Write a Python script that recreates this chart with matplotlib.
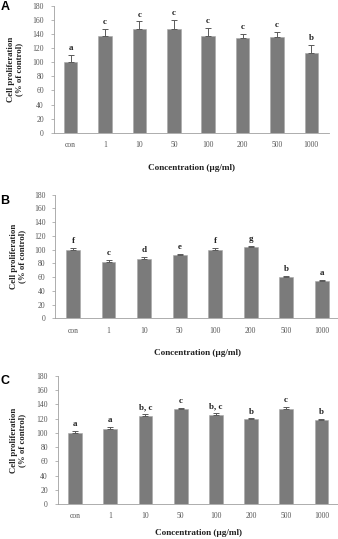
import matplotlib
matplotlib.use("Agg")
import matplotlib.pyplot as plt

categories = ["con", "1", "10", "50", "100", "200", "500", "1000"]

vals_a = [100, 138, 148, 148, 137, 135, 136, 113]
err_a = [10, 10, 10, 12, 12, 5, 7, 12]
let_a = ["a", "c", "c", "c", "c", "c", "c", "b"]

vals_b = [100, 82, 87, 92, 99, 104, 60, 55]
err_b = [3, 2.5, 2.5, 2, 3, 1.5, 2, 1]
let_b = ["f", "c", "d", "e", "f", "g", "b", "a"]

vals_c = [100, 106, 124, 133, 125, 119, 134, 118]
err_c = [2.5, 2.5, 2.5, 2, 2.5, 1.5, 2.5, 1.5]
let_c = ["a", "a", "b, c", "c", "b, c", "b", "c", "b"]

yticks = list(range(0, 181, 20))

W, H = 338, 539
plt.rcParams['font.family'] = ['Liberation Serif', 'DejaVu Serif']
fig = plt.figure(figsize=(W / 100, H / 100), dpi=100)
fig.patch.set_facecolor("white")

# panel boxes in pixels: left, right, top, bottom, ylabel x, xlabel y, panel letter y
panels = [
    ("A", vals_a, err_a, let_a, (53.5, 328.5, 6, 132.7), 15, 168, 1),
    ("B", vals_b, err_b, let_b, (55.2, 339.5, 194.7, 318.3), 18, 353, 195),
    ("C", vals_c, err_c, let_c, (57.5, 339.0, 376, 504), 18, 533, 375),
]

for name, vals, errs, lets, box, ylx, xly, laby in panels:
    l, r, t, b = box
    ax = fig.add_axes([l / W, 1 - b / H, (r - l) / W, (b - t) / H])
    x = range(len(categories))
    ax.bar(x, vals, width=0.39, color="#7b7b7b", edgecolor="#a8a8a8", linewidth=0.4, zorder=2)
    ax.errorbar(x, vals, yerr=[[0] * len(errs), errs], fmt="none", ecolor="#5a5a5a",
                elinewidth=0.7, capsize=2, capthick=0.7, zorder=3)
    for i, (v, e, s) in enumerate(zip(vals, errs, lets)):
        ax.annotate(s, (i, v + e), xytext=(0, 2), textcoords="offset points",
                    ha="center", va="bottom", fontsize=6.5, fontweight="bold", color="#222222")
    ax.set_xlim(-0.5, 7.5)
    ax.set_ylim(0, 180)
    ax.set_yticks(yticks)
    ax.set_xticks(list(x))
    ax.set_xticklabels(categories)
    ax.tick_params(axis="y", length=2, width=0.5, color="#999999", labelsize=5.5,
                   labelcolor="#555555", pad=5)
    ax.tick_params(axis="x", length=0, labelsize=5.5, labelcolor="#555555", pad=6)
    for s in ["top", "right"]:
        ax.spines[s].set_visible(False)
    for s in ["left", "bottom"]:
        ax.spines[s].set_color("#a0a0a0")
        ax.spines[s].set_linewidth(0.6)
    ax.set_ylabel("Cell proliferation\n(% of control)", fontsize=6.3, fontweight="bold",
                  color="#222222", linespacing=1.0)
    ax.yaxis.set_label_coords((ylx - l) / (r - l), 0.5)
    ax.set_xlabel("Concentration (\u00b5g/ml)", fontsize=6.6, fontweight="bold", color="#222222")
    ax.xaxis.set_label_coords(0.5, -(xly - b) / (b - t))
    ax.xaxis.label.set_va("center")
    ax.yaxis.label.set_va("center")
    fig.text(0.5 / W, 1 - laby / H, name, fontsize=9, fontweight="bold",
             family=["Liberation Sans", "DejaVu Sans"], ha="left", va="top")

fig.savefig("out.png", dpi=100, facecolor="white")
